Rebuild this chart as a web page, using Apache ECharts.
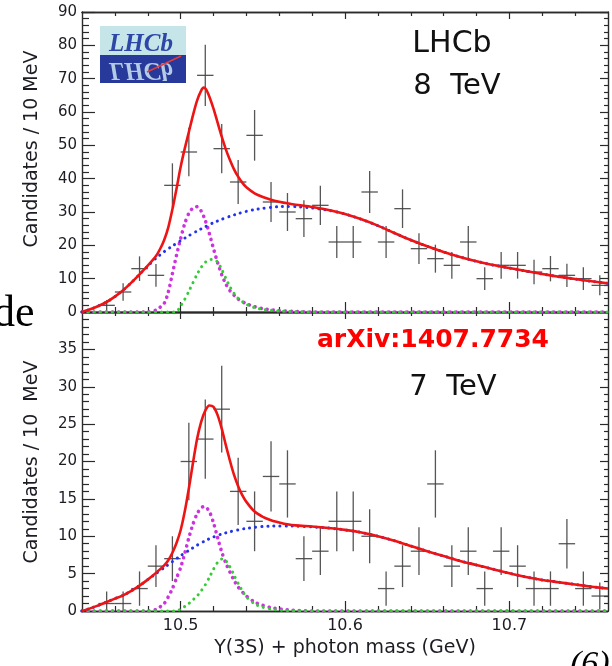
<!DOCTYPE html>
<html><head><meta charset="utf-8">
<script src="https://cdn.jsdelivr.net/npm/echarts@6/dist/echarts.min.js"></script>
<style>html,body{margin:0;padding:0;background:#fff}#c{width:612px;height:666px}</style>
</head><body><div id="c"></div>
<script>
// ---------------- data ----------------
const X_MIN = 10.44, X_MAX = 10.76;
const BIN_HALF = 0.005;
const binCenters = [10.455,10.465,10.475,10.485,10.495,10.505,10.515,10.525,10.535,10.545,10.555,10.565,10.575,10.585,10.595,10.605,10.615,10.625,10.635,10.645,10.655,10.665,10.675,10.685,10.695,10.705,10.715,10.725,10.735,10.745,10.755];
const counts8TeV = [2,6,13,11,38,48,71,49,39,53,33,30,28,32,21,21,36,21,31,19,16,14,21,10,14,14,12,13,11,10,8];
const errors8TeV = [1.6,2.6,3.7,3.4,6.6,7.3,9.2,7.4,6.6,7.6,6.0,5.7,5.5,5.9,4.8,4.8,6.3,4.8,5.8,4.6,4.2,4.0,4.8,3.4,4.0,4.0,3.7,3.8,3.5,3.4,3.0];
const counts7TeV = [1,1,3,6,7,20,23,27,16,12,18,17,7,8,12,12,10,3,6,8,17,6,8,3,8,6,3,3,9,3,2];
const errors7TeV = [1.6,1.6,2.3,2.8,3.0,5.2,5.3,5.8,4.5,4.0,4.7,4.5,3.0,3.2,4.0,4.0,3.6,2.3,2.8,3.2,4.5,2.8,3.2,2.3,3.2,2.8,2.3,2.3,3.3,2.3,1.8];

// fit curves: [mass, candidates]
const fit8Background = [[10.44,0],[10.445,0.8],[10.45,1.8],[10.455,3.0],[10.46,4.6],[10.465,6.5],[10.47,8.8],[10.475,11.3],[10.48,13.8],[10.485,16.1],[10.49,18.1],[10.495,19.8],[10.5,21.4],[10.505,22.9],[10.51,24.3],[10.515,25.6],[10.52,26.8],[10.525,27.8],[10.53,28.7],[10.535,29.5],[10.54,30.2],[10.545,30.7],[10.55,31.1],[10.555,31.4],[10.56,31.6],[10.565,31.65],[10.57,31.6],[10.58,31.2],[10.59,30.5],[10.6,29.4],[10.61,27.8],[10.62,25.9],[10.63,23.7],[10.64,21.6],[10.65,19.7],[10.66,18.0],[10.67,16.5],[10.68,15.2],[10.69,14.1],[10.7,13.2],[10.71,12.3],[10.72,11.4],[10.73,10.6],[10.74,9.9],[10.75,9.2],[10.76,8.6]];
const fit8PeakA = [[10.44,0],[10.48,0],[10.485,0.6],[10.49,2.6],[10.4925,6],[10.495,11.5],[10.4975,17],[10.5,22],[10.5025,26.5],[10.505,29.6],[10.5075,31.2],[10.51,31.6],[10.5125,30.3],[10.515,27.5],[10.5175,23.5],[10.52,19],[10.5225,14.8],[10.525,11.2],[10.5275,8.4],[10.53,6.4],[10.535,3.9],[10.54,2.5],[10.545,1.6],[10.55,1.0],[10.56,0.4],[10.57,0.15],[10.58,0],[10.76,0]];
const fit8PeakB = [[10.44,0],[10.497,0],[10.5,1.8],[10.5025,3.8],[10.505,6.2],[10.5075,8.8],[10.51,11.3],[10.5125,13.4],[10.515,14.9],[10.5175,15.7],[10.52,15.8],[10.5225,15.0],[10.525,12.8],[10.5275,10.1],[10.53,7.6],[10.5325,5.6],[10.535,4.1],[10.54,2.3],[10.545,1.3],[10.55,0.8],[10.56,0.3],[10.57,0.1],[10.58,0],[10.76,0]];
const fit8Total = [[10.44,0],[10.445,0.8],[10.45,1.8],[10.455,3.0],[10.46,4.6],[10.465,6.5],[10.47,8.8],[10.475,11.3],[10.48,13.9],[10.485,16.8],[10.4875,18.9],[10.49,21.6],[10.4925,25.4],[10.495,30.8],[10.4975,37],[10.5,43.5],[10.5025,49],[10.505,54],[10.5075,59],[10.51,63.4],[10.5125,66.4],[10.514,67.3],[10.5155,66.8],[10.5175,64.6],[10.52,61],[10.5225,56.8],[10.525,52.6],[10.5275,48.8],[10.53,45.6],[10.5325,42.8],[10.535,40.6],[10.5375,38.8],[10.54,37.4],[10.545,35.6],[10.55,34.5],[10.555,33.7],[10.56,33.1],[10.565,32.6],[10.57,32.2],[10.58,31.5],[10.59,30.6],[10.6,29.4],[10.61,27.8],[10.62,25.9],[10.63,23.7],[10.64,21.6],[10.65,19.7],[10.66,18.0],[10.67,16.5],[10.68,15.2],[10.69,14.1],[10.7,13.2],[10.71,12.3],[10.72,11.4],[10.73,10.6],[10.74,9.9],[10.75,9.2],[10.76,8.6]];

const fit7Background = [[10.44,0],[10.445,0.35],[10.45,0.75],[10.455,1.2],[10.46,1.65],[10.465,2.1],[10.47,2.7],[10.475,3.4],[10.48,4.2],[10.485,5.0],[10.49,5.8],[10.495,6.6],[10.5,7.4],[10.505,8.1],[10.51,8.8],[10.515,9.4],[10.52,9.9],[10.525,10.3],[10.53,10.6],[10.535,10.85],[10.54,11.05],[10.545,11.2],[10.55,11.3],[10.555,11.35],[10.56,11.38],[10.565,11.38],[10.57,11.35],[10.58,11.25],[10.59,11.1],[10.6,10.85],[10.61,10.5],[10.62,10.0],[10.63,9.4],[10.64,8.7],[10.65,8.0],[10.66,7.35],[10.67,6.7],[10.68,6.15],[10.69,5.6],[10.7,5.05],[10.71,4.55],[10.72,4.15],[10.73,3.85],[10.74,3.55],[10.75,3.25],[10.76,3.0]];
const fit7PeakA = [[10.44,0],[10.48,0],[10.485,0.2],[10.49,1.0],[10.4925,1.9],[10.495,3.0],[10.4975,4.4],[10.5,5.8],[10.5025,7.7],[10.505,9.8],[10.5075,11.6],[10.51,13.0],[10.5125,13.8],[10.5145,14.0],[10.5175,13.3],[10.52,11.8],[10.5225,9.8],[10.525,7.9],[10.5275,6.4],[10.53,5.2],[10.5325,4.1],[10.535,3.2],[10.54,2.0],[10.545,1.2],[10.55,0.75],[10.555,0.45],[10.565,0.15],[10.58,0],[10.76,0]];
const fit7PeakB = [[10.44,0],[10.498,0],[10.5,0.3],[10.5025,0.6],[10.505,1.0],[10.5075,1.5],[10.51,2.0],[10.5125,2.7],[10.515,3.5],[10.5175,4.5],[10.52,5.6],[10.5225,6.5],[10.5256,7.0],[10.528,6.6],[10.53,5.9],[10.5325,4.8],[10.535,3.7],[10.5375,2.7],[10.54,1.9],[10.545,0.95],[10.55,0.5],[10.555,0.25],[10.565,0.05],[10.58,0],[10.76,0]];
const fit7Total = [[10.44,0],[10.445,0.35],[10.45,0.75],[10.455,1.2],[10.46,1.65],[10.465,2.1],[10.47,2.7],[10.475,3.4],[10.48,4.2],[10.485,5.1],[10.49,6.1],[10.4925,6.8],[10.495,7.8],[10.4975,9.1],[10.5,10.8],[10.5025,13.3],[10.505,16.4],[10.5075,19.8],[10.51,23.0],[10.5125,25.3],[10.515,26.8],[10.5175,27.5],[10.52,27.3],[10.5225,26.2],[10.525,24.4],[10.5275,22.2],[10.53,20.1],[10.5325,18.2],[10.535,16.7],[10.5375,15.5],[10.54,14.6],[10.545,13.3],[10.55,12.6],[10.555,12.15],[10.56,11.85],[10.565,11.6],[10.57,11.45],[10.58,11.3],[10.59,11.1],[10.6,10.85],[10.61,10.5],[10.62,10.0],[10.63,9.4],[10.64,8.7],[10.65,8.0],[10.66,7.35],[10.67,6.7],[10.68,6.15],[10.69,5.6],[10.7,5.05],[10.71,4.55],[10.72,4.15],[10.73,3.85],[10.74,3.55],[10.75,3.25],[10.76,3.0]];

const xMajorTicks = [10.5, 10.6, 10.7];
const xMinorTicks = [10.46,10.48,10.52,10.54,10.56,10.58,10.62,10.64,10.66,10.68,10.72,10.74];
// ---------------- chart ----------------
const INK = '#1c1c24';
const FONT = 'DejaVu Sans';
const axisLineStyle = {color:'#2a2a2a', width:1.4};
const tickLine = {color:'#2a2a2a', width:1.2};

function xAxes(gridIndex, withLabels) {
  const base = {gridIndex, type:'value', min:X_MIN, max:X_MAX, splitLine:{show:false},
    axisLine:{show:true, onZero:false, lineStyle:axisLineStyle}};
  const major = {...base, position:'bottom',
    axisTick:{show:true, inside:true, length:10, customValues:xMajorTicks, lineStyle:tickLine},
    axisLabel: withLabels ? {show:true, customValues:xMajorTicks, formatter:v=>Number(v).toFixed(1),
      fontFamily:FONT, fontSize:16, color:INK, margin:7} : {show:false}};
  if (withLabels) {
    Object.assign(major, {name:'\u03A5(3S) + photon mass (GeV)', nameLocation:'middle', nameGap:28,
      nameTextStyle:{fontFamily:FONT, fontSize:19, color:INK}});
  }
  return [
    {...base, position:'bottom', axisTick:{show:true, inside:true, length:5, customValues:xMinorTicks, lineStyle:tickLine}, axisLabel:{show:false}},
    major,
    {...base, position:'top', axisTick:{show:true, inside:true, length:4, customValues:xMinorTicks, lineStyle:tickLine}, axisLabel:{show:false}},
    {...base, position:'top', axisTick:{show:true, inside:true, length:7, customValues:xMajorTicks, lineStyle:tickLine}, axisLabel:{show:false}}
  ];
}
function yAxes(gridIndex, max, interval) {
  const base = {gridIndex, type:'value', min:0, max, interval, splitLine:{show:false},
    axisLine:{show:true, onZero:false, lineStyle:axisLineStyle}};
  return [
    {...base, position:'left',
      axisTick:{show:true, inside:true, length:13, lineStyle:tickLine},
      minorTick:{show:true, splitNumber:5, length:7, lineStyle:tickLine},
      axisLabel:{show:true, fontFamily:FONT, fontSize:15, color:INK, margin:5,
        formatter: v => (v === max && gridIndex === 1) ? '' : String(v)}},
    {...base, position:'right',
      axisTick:{show:true, inside:true, length:8, lineStyle:tickLine},
      minorTick:{show:true, splitNumber:5, length:4, lineStyle:tickLine},
      axisLabel:{show:false}}
  ];
}

function pointsSeries(xIdx, yIdx, counts, errs) {
  const data = binCenters.map((x,i)=>[x, counts[i], errs[i]]);
  return {type:'custom', xAxisIndex:xIdx, yAxisIndex:yIdx, clip:true, z:2, data,
    renderItem(params, api) {
      const x = api.value(0), y = api.value(1), e = api.value(2);
      const c = api.coord([x, y]);
      const l = api.coord([x - BIN_HALF, y]);
      const r = api.coord([x + BIN_HALF, y]);
      const t = api.coord([x, y + e]);
      const b = api.coord([x, Math.max(0, y - e)]);
      const st = {stroke:'#444', lineWidth:1.3, opacity:0.9};
      return {type:'group', children:[
        {type:'line', shape:{x1:l[0], y1:c[1], x2:r[0], y2:c[1]}, style:st},
        {type:'line', shape:{x1:c[0], y1:t[1], x2:c[0], y2:b[1]}, style:st}
      ]};
    }};
}
function curve(xIdx, yIdx, data, color, width, dotted, z) {
  return {type:'line', xAxisIndex:xIdx, yAxisIndex:yIdx, data, showSymbol:false, symbol:'none',
    smooth:0.25, clip:true, z,
    lineStyle: dotted ? {color, width, type:[0.1, dotted], cap:'round'} : {color, width, join:'round'}};
}

const chart = echarts.init(document.getElementById('c'), null, {renderer:'canvas'});
chart.setOption({
  animation:false,
  backgroundColor:'#ffffff',
  grid:[{left:82, top:12, width:526, height:300}, {left:82, top:312, width:526, height:299}],
  xAxis:[...xAxes(0,false), ...xAxes(1,true)],
  yAxis:[...yAxes(0,90,10), ...yAxes(1,40,5)],
  series:[
    pointsSeries(0,0,counts8TeV,errors8TeV),
    curve(0,0,fit8PeakA,'#cc33dd',3.6,6,3),
    curve(0,0,fit8PeakB,'#33cc33',3,6,3),
    curve(0,0,fit8Background,'#2233ee',3,6,3),
    curve(0,0,fit8Total,'#ee1414',2.6,0,4),
    pointsSeries(4,2,counts7TeV,errors7TeV),
    curve(4,2,fit7PeakA,'#cc33dd',3.6,6,3),
    curve(4,2,fit7PeakB,'#33cc33',3,6,3),
    curve(4,2,fit7Background,'#2233ee',3,6,3),
    curve(4,2,fit7Total,'#ee1414',2.6,0,4)
  ],
  graphic:[
    {type:'rect', shape:{x:100,y:26,width:86,height:29}, style:{fill:'#c5e5e8'}},
    {type:'rect', shape:{x:100,y:55,width:86,height:28}, style:{fill:'#27399b'}},
    {type:'text', x:141, y:57, scaleY:-1, style:{text:'LHCb', fontFamily:'Liberation Serif', fontStyle:'italic', fontWeight:'bold', fontSize:25, fill:'#b4cbe6', align:'center', verticalAlign:'bottom'}},
    {type:'text', x:141, y:57, style:{text:'LHCb', fontFamily:'Liberation Serif', fontStyle:'italic', fontWeight:'bold', fontSize:25, fill:'#2d46a8', align:'center', verticalAlign:'bottom'}},
    {type:'line', shape:{x1:147,y1:72,x2:181,y2:56}, style:{stroke:'#e43b3b', lineWidth:1.5}},
    {type:'text', x:452, y:44, style:{text:'LHCb', fontFamily:FONT, fontSize:30, fill:'#111', align:'center', verticalAlign:'middle'}},
    {type:'text', x:457, y:86, style:{text:'8  TeV', fontFamily:FONT, fontSize:29, fill:'#111', align:'center', verticalAlign:'middle'}},
    {type:'text', x:433, y:340, style:{text:'arXiv:1407.7734', fontFamily:FONT, fontWeight:'bold', fontSize:25, fill:'#ff0000', align:'center', verticalAlign:'middle'}},
    {type:'text', x:453, y:387, style:{text:'7  TeV', fontFamily:FONT, fontSize:29, fill:'#111', align:'center', verticalAlign:'middle'}},
    {type:'text', x:32, y:149, rotation:Math.PI/2, style:{text:'Candidates / 10 MeV', fontFamily:FONT, fontSize:19, fill:INK, align:'center', verticalAlign:'middle'}},
    {type:'text', x:32, y:462, rotation:Math.PI/2, style:{text:'Candidates / 10  MeV', fontFamily:FONT, fontSize:19, fill:INK, align:'center', verticalAlign:'middle'}},
    {type:'text', x:-7, y:336, style:{text:'de', fontFamily:'Liberation Serif', fontSize:44, fill:'#000', align:'left', verticalAlign:'bottom'}},
    {type:'text', x:570, y:648, style:{text:'(6)', fontFamily:'Liberation Serif', fontStyle:'italic', fontSize:34, fill:'#000', align:'left', verticalAlign:'top'}}
  ]
});
</script></body></html>
